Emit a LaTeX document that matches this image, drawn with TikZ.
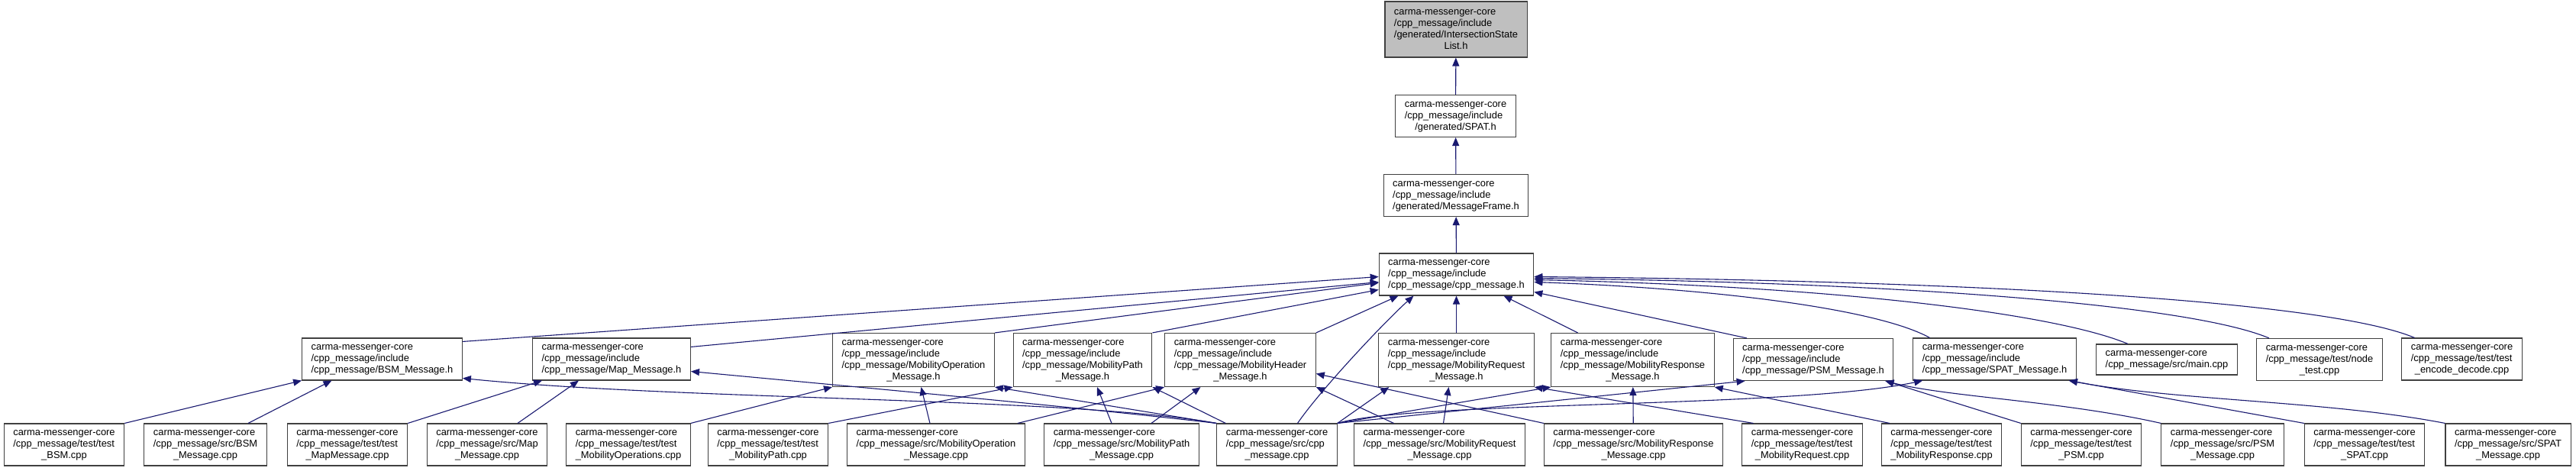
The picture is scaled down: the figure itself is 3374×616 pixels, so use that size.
\documentclass[tikz,border=0pt]{standalone}
\usepackage{fontspec}
\setmainfont{Liberation Sans}
\usetikzlibrary{arrows.meta}
\definecolor{depblue}{RGB}{25,25,112}
\definecolor{boxgray}{RGB}{191,191,191}
\definecolor{boxline}{RGB}{64,64,64}
% file box text: lines flush left, last line centred
\newcommand{\dfile}[2]{\begin{tabular}{@{}l@{}}#1\\\multicolumn{1}{@{}c@{}}{#2}\end{tabular}}

\begin{document}
\begin{tikzpicture}[x=1pt,y=-1pt,
  file/.style={draw=boxline,line width=1.1pt,fill=white,inner xsep=12pt,inner ysep=5pt,font=\fontsize{12.9}{15}\selectfont},
  dep/.style={-{Triangle[length=11pt,width=9pt]},depblue,line width=1.1pt}]
  \path[fill=white,use as bounding box] (0,0) rectangle (3374,616);
  % include chain
  \node[file,fill=boxgray,inner ysep=6.5pt] (isl) at (1907,38.5) {\dfile{carma-messenger-core\\/cpp\_message/include\\/generated/IntersectionState}{List.h}};
  \node[file] (spat) at (1906.5,152) {\dfile{carma-messenger-core\\/cpp\_message/include}{/generated/SPAT.h}};
  \node[file] (mframe) at (1907,256) {\dfile{carma-messenger-core\\/cpp\_message/include}{/generated/MessageFrame.h}};
  \node[file] (cpph) at (1907.5,359.5) {\dfile{carma-messenger-core\\/cpp\_message/include}{/cpp\_message/cpp\_message.h}};
  % headers and sources that include cpp_message.h
  \node[file] (bsmh) at (500.5,470.5) {\dfile{carma-messenger-core\\/cpp\_message/include}{/cpp\_message/BSM\_Message.h}};
  \node[file] (maph) at (801,470.5) {\dfile{carma-messenger-core\\/cpp\_message/include}{/cpp\_message/Map\_Message.h}};
  \node[file] (mobopH) at (1196.5,471.5) {\dfile{carma-messenger-core\\/cpp\_message/include\\/cpp\_message/MobilityOperation}{\_Message.h}};
  \node[file] (mobpathH) at (1418,471.5) {\dfile{carma-messenger-core\\/cpp\_message/include\\/cpp\_message/MobilityPath}{\_Message.h}};
  \node[file] (mobhdrH) at (1624.5,471.5) {\dfile{carma-messenger-core\\/cpp\_message/include\\/cpp\_message/MobilityHeader}{\_Message.h}};
  \node[file] (mobreqH) at (1907.5,471.5) {\dfile{carma-messenger-core\\/cpp\_message/include\\/cpp\_message/MobilityRequest}{\_Message.h}};
  \node[file] (mobrespH) at (2138.5,471.5) {\dfile{carma-messenger-core\\/cpp\_message/include\\/cpp\_message/MobilityResponse}{\_Message.h}};
  \node[file] (psmh) at (2375,471) {\dfile{carma-messenger-core\\/cpp\_message/include}{/cpp\_message/PSM\_Message.h}};
  \node[file] (spath) at (2612.5,470.5) {\dfile{carma-messenger-core\\/cpp\_message/include}{/cpp\_message/SPAT\_Message.h}};
  \node[file] (mainc) at (2838,471) {\dfile{carma-messenger-core}{/cpp\_message/src/main.cpp}};
  \node[file] (nodetest) at (3038,471) {\dfile{carma-messenger-core\\/cpp\_message/test/node}{\_test.cpp}};
  \node[file] (encdec) at (3224.5,470.5) {\dfile{carma-messenger-core\\/cpp\_message/test/test}{\_encode\_decode.cpp}};
  % bottom row
  \node[file] (tbsm) at (84,582.5) {\dfile{carma-messenger-core\\/cpp\_message/test/test}{\_BSM.cpp}};
  \node[file] (sbsm) at (269,582.5) {\dfile{carma-messenger-core\\/cpp\_message/src/BSM}{\_Message.cpp}};
  \node[file] (tmap) at (455,582.5) {\dfile{carma-messenger-core\\/cpp\_message/test/test}{\_MapMessage.cpp}};
  \node[file] (smap) at (638,582.5) {\dfile{carma-messenger-core\\/cpp\_message/src/Map}{\_Message.cpp}};
  \node[file] (tmobop) at (823,582.5) {\dfile{carma-messenger-core\\/cpp\_message/test/test}{\_MobilityOperations.cpp}};
  \node[file] (tmobpath) at (1006,582.5) {\dfile{carma-messenger-core\\/cpp\_message/test/test}{\_MobilityPath.cpp}};
  \node[file] (smobop) at (1226,582.5) {\dfile{carma-messenger-core\\/cpp\_message/src/MobilityOperation}{\_Message.cpp}};
  \node[file] (smobpath) at (1469,582.5) {\dfile{carma-messenger-core\\/cpp\_message/src/MobilityPath}{\_Message.cpp}};
  \node[file] (scpp) at (1672.5,582.5) {\dfile{carma-messenger-core\\/cpp\_message/src/cpp}{\_message.cpp}};
  \node[file] (smobreq) at (1885.5,582.5) {\dfile{carma-messenger-core\\/cpp\_message/src/MobilityRequest}{\_Message.cpp}};
  \node[file] (smobresp) at (2139.5,582.5) {\dfile{carma-messenger-core\\/cpp\_message/src/MobilityResponse}{\_Message.cpp}};
  \node[file] (tmobreq) at (2360.5,582.5) {\dfile{carma-messenger-core\\/cpp\_message/test/test}{\_MobilityRequest.cpp}};
  \node[file] (tmobresp) at (2543,582.5) {\dfile{carma-messenger-core\\/cpp\_message/test/test}{\_MobilityResponse.cpp}};
  \node[file] (tpsm) at (2726,582.5) {\dfile{carma-messenger-core\\/cpp\_message/test/test}{\_PSM.cpp}};
  \node[file] (spsm) at (2911,582.5) {\dfile{carma-messenger-core\\/cpp\_message/src/PSM}{\_Message.cpp}};
  \node[file] (tspat) at (3097,582.5) {\dfile{carma-messenger-core\\/cpp\_message/test/test}{\_SPAT.cpp}};
  \node[file] (sspat) at (3285,582.5) {\dfile{carma-messenger-core\\/cpp\_message/src/SPAT}{\_Message.cpp}};
  % edges up the chain
  \draw[dep] (spat) -- (isl);
  \draw[dep] (mframe) -- (spat);
  \draw[dep] (cpph) -- (mframe);
  % into cpp_message.h
  \draw[dep] ([yshift=-5pt]bsmh.north east) -- ([yshift=-3pt]cpph.west);
  \draw[dep] ([yshift=-12pt]maph.north east) -- ([yshift=-10pt]cpph.west);
  \draw[dep] (mobopH.north east) -- ([yshift=-11pt]cpph.west);
  \draw[dep] (mobpathH.north east) -- ([yshift=-20pt]cpph.west);
  \draw[dep] (mobhdrH.north east) -- ([xshift=-76pt]cpph.south);
  \draw[dep] ([xshift=27pt]scpp.north) .. controls (1730,510) and (1815,420) .. ([xshift=-56pt]cpph.south);
  \draw[dep] (mobreqH) -- (cpph);
  \draw[dep] ([xshift=-72pt]mobrespH.north) -- ([xshift=62pt]cpph.south);
  \draw[dep] ([xshift=-87pt]psmh.north) -- ([yshift=-23pt]cpph.east);
  \draw[dep] ([xshift=-85pt]spath.north) .. controls (2460,405) and (2250,378) .. ([yshift=-10pt]cpph.east);
  \draw[dep] ([xshift=-51pt]mainc.north) .. controls (2690,410) and (2400,375) .. ([yshift=-7pt]cpph.east);
  \draw[dep] ([xshift=-66pt]nodetest.north) .. controls (2870,400) and (2500,370) .. ([yshift=-5pt]cpph.east);
  \draw[dep] ([xshift=-62pt]encdec.north) .. controls (3050,395) and (2600,368) .. ([yshift=-3pt]cpph.east);
  % bottom row into headers
  \draw[dep] (tbsm.north east) -- (bsmh.south west);
  \draw[dep] ([xshift=56pt]sbsm.north) -- ([xshift=-66pt]bsmh.south);
  \draw[dep] (tmap.north east) -- ([xshift=13pt]maph.south west);
  \draw[dep] ([xshift=40pt]smap.north) -- ([xshift=-43pt]maph.south);
  \draw[dep] (scpp.north west) .. controls (1400,520) and (900,525) .. ([yshift=-25pt]bsmh.east);
  \draw[dep] (scpp.north west) .. controls (1400,532) and (1100,505) .. ([yshift=-16pt]maph.east);
  \draw[dep] (tmobop.north east) -- (mobopH.south west);
  \draw[dep] (tmobpath.north east) -- (mobpathH.south west);
  \draw[dep] (scpp.north west) -- (mobopH.south east);
  \draw[dep] ([xshift=-8pt]smobop.north) -- ([xshift=10pt]mobopH.south);
  \draw[dep] ([xshift=-10pt]smobop.north east) -- (mobhdrH.south west);
  \draw[dep] ([xshift=-13pt]smobpath.north) -- ([xshift=19pt]mobpathH.south);
  \draw[dep] ([xshift=39pt]smobpath.north) -- ([xshift=-52pt]mobhdrH.south);
  \draw[dep] ([xshift=12pt]scpp.north west) -- (mobpathH.south east);
  \draw[dep] ([xshift=-60pt]smobreq.north) -- (mobhdrH.south east);
  \draw[dep] (smobresp.north west) -- ([yshift=-18pt]mobhdrH.east);
  \draw[dep] (scpp.north east) -- ([xshift=14pt]mobreqH.south west);
  \draw[dep] ([xshift=5pt]smobreq.north) -- ([xshift=-10pt]mobreqH.south);
  \draw[dep] ([xshift=-64pt]tmobreq.north) -- (mobreqH.south east);
  \draw[dep] (scpp.north east) -- (mobrespH.south west);
  \draw[dep] (smobresp) -- (mobrespH);
  \draw[dep] ([xshift=-68pt]tmobresp.north) -- (mobrespH.south east);
  \draw[dep] (scpp.north east) -- ([xshift=16pt]psmh.south west);
  \draw[dep] (tpsm.north west) -- ([xshift=-11pt]psmh.south east);
  \draw[dep] (spsm.north west) .. controls (2700,525) and (2550,520) .. ([xshift=-11pt]psmh.south east);
  \draw[dep] (scpp.north east) .. controls (1850,525) and (2350,535) .. ([xshift=13pt]spath.south west);
  \draw[dep] (tspat.north west) -- ([xshift=-10pt]spath.south east);
  \draw[dep] (sspat.north west) .. controls (3050,525) and (2850,525) .. ([xshift=-10pt]spath.south east);
\end{tikzpicture}
\end{document}
